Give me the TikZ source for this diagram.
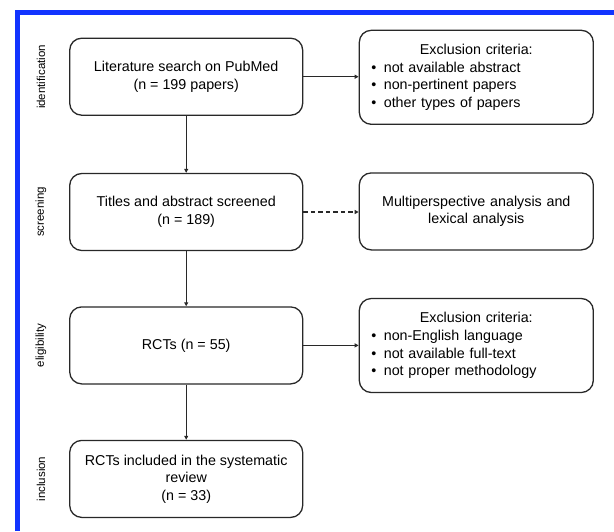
\documentclass[tikz,border=0pt]{standalone}
\usepackage{fontspec}
\setmainfont{Liberation Sans}
\usepackage{tikz}
\usetikzlibrary{positioning, arrows.meta}
\usepackage{xcolor}
\definecolor{frameblue}{RGB}{18, 52, 255}
\definecolor{boxline}{RGB}{40, 40, 40}
\newcommand{\crititem}[1]{\textbullet\hspace{7.5pt}#1}

\begin{document}
\begin{tikzpicture}[x=1pt, y=-1pt,
    every node/.style={font=\fontsize{14.3}{17.6}\selectfont},
    stage/.style={draw=boxline, line width=1.3pt, rounded corners=12pt,
      align=center, minimum width=233pt, minimum height=77pt, inner sep=0pt},
    critbox/.style={draw=boxline, line width=1.3pt, rounded corners=12pt,
      align=left, text width=210pt, inner xsep=12pt, inner ysep=0pt,
      minimum height=94pt},
    phase/.style={rotate=90, font=\fontsize{11.5}{13}\selectfont},
    flow/.style={line width=1.2pt, boxline, -{Triangle[length=4pt, width=4pt]}}]
  \useasboundingbox (0,0) rectangle (614,531);
  % blue frame, cut at the right and bottom
  \draw[frameblue, line width=5pt] (17.5,531) |- (614,12.5);

  % phases
  \node[phase] (pid) at (41,77) {identification};
  \node[phase] (psc) at (41,212) {screening};
  \node[phase] (pel) at (41,345.5) {eligibility};
  \node[phase] (pin) at (41,479) {inclusion};

  % main flow
  \node[stage] (search) at (186.2,76.7) {Literature search on PubMed\\(n = 199 papers)};
  \node[stage] (titles) at (186.2,212) {Titles and abstract screened\\(n = 189)};
  \node[stage] (rcts) at (186.2,345.4) {RCTs (n = 55)};
  \node[stage] (incl) at (186.2,478.9) {RCTs included in the systematic\\review\\(n = 33)};

  % side boxes
  \node[critbox] (excl1) at (476.3,77.3) {\hfil Exclusion criteria:\hfil\\
    \crititem{not available abstract}\\
    \crititem{non-pertinent papers}\\
    \crititem{other types of papers}};
  \node[critbox, align=center, minimum height=77pt] (multi) at (476.3,211.4)
    {Multiperspective analysis and\\lexical analysis};
  \node[critbox] (excl2) at (476.3,345.5) {\hfil Exclusion criteria:\hfil\\
    \crititem{non-English language}\\
    \crititem{not available full-text}\\
    \crititem{not proper methodology}};

  \draw[flow] (search) -- (titles);
  \draw[flow] (titles) -- (rcts);
  \draw[flow] (rcts) -- (incl);
  \draw[flow] (search.east) -- (search.east -| excl1.west);
  \draw[flow, dash pattern=on 4.5pt off 3pt] (titles.east) -- (titles.east -| multi.west);
  \draw[flow] (rcts.east) -- (rcts.east -| excl2.west);
\end{tikzpicture}
\end{document}
